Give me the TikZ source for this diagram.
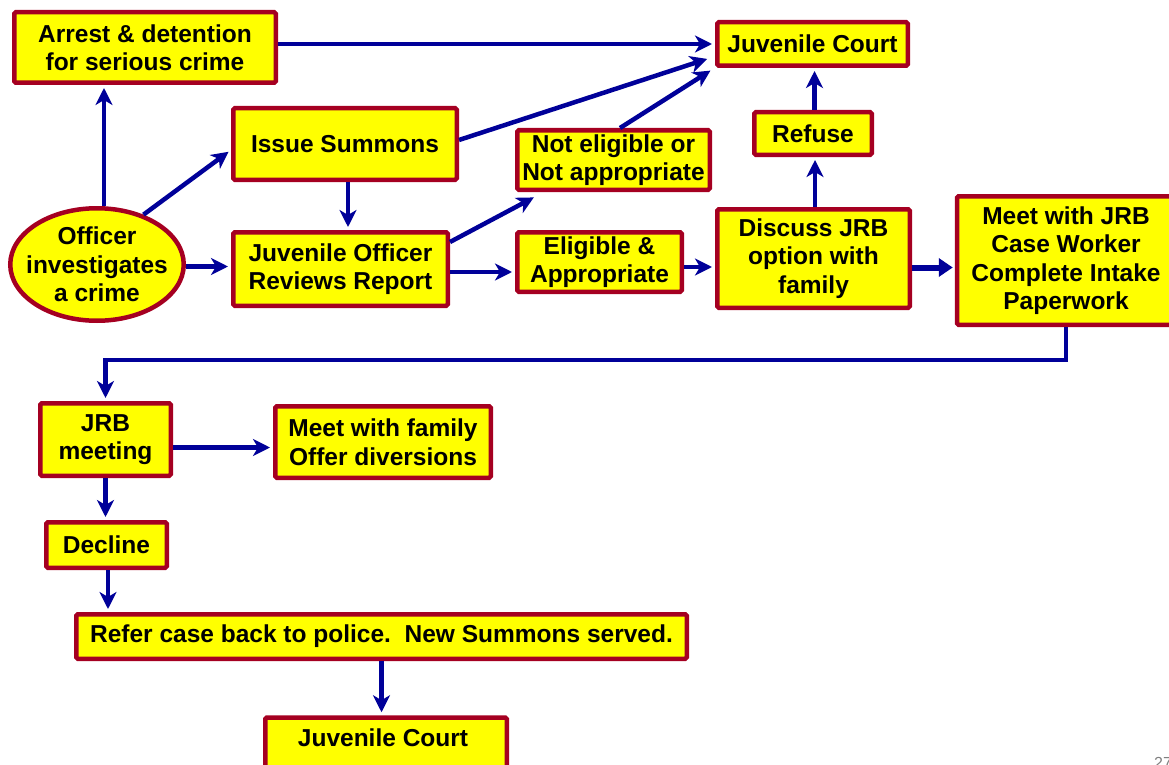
\documentclass[tikz,border=0pt]{standalone}
\usepackage{fontspec}
\setmainfont{Liberation Sans}
\usetikzlibrary{arrows.meta,shapes.geometric,calc}
\definecolor{boxfill}{HTML}{FFFF00}
\definecolor{boxline}{HTML}{A50021}
\definecolor{flow}{HTML}{000099}
\begin{document}
\begin{tikzpicture}[x=1pt,y=-1pt,
  box/.style={draw=boxline, fill=boxfill, line width=4.5pt, rounded corners=1.5pt,
    inner sep=0pt, align=center, font=\bfseries\fontsize{24.5}{28.5}\selectfont},
  oval/.style={box, ellipse, sharp corners, inner xsep=-10pt, inner ysep=-3pt},
  arr/.style={draw=flow, line width=4.5pt, shorten >=3pt,
    -{Stealth[length=17pt,width=17pt,inset=5pt]}},
  bigarr/.style={draw=flow, line width=6pt, shorten >=2pt,
    -{Triangle[length=14pt,width=18pt]}},
]
\useasboundingbox (0,0) rectangle (1169,765);

% ---- boxes ----
\node[box, minimum width=261.5, minimum height=70.5] (arrest) at (145,47.5)
  {Arrest \& detention\\for serious crime};
\node[box, minimum width=190.5, minimum height=43.5] (jc1) at (812.5,44) {Juvenile Court};
\node[box, minimum width=223.5, minimum height=71.5] (summons) at (345,144) {Issue Summons};
\node[box, minimum width=192.5, minimum height=59.5] (notelig) at (613.5,160)
  {Not eligible or\\Not appropriate};
\node[box, minimum width=117.5, minimum height=42.5] (refuse) at (813,133.5) {Refuse};
\node[oval, minimum width=173.5, minimum height=112.5] (officer) at (97,264.5)
  {Officer\\investigates\\a crime};
\node[box, minimum width=214.5, minimum height=73.5] (reviews) at (340.5,269)
  {Juvenile Officer\\Reviews Report};
\node[box, minimum width=164.5, minimum height=59.5] (elig) at (599.5,262)
  {Eligible \&\\Appropriate};
\node[box, minimum width=192.5, minimum height=98.5] (discuss) at (813.5,258.5)
  {Discuss JRB\\option with\\family};
\node[box, minimum width=218, minimum height=128.5] (meetjrb) at (1066,260.5)
  {Meet with JRB\\Case Worker\\Complete Intake\\Paperwork};
\node[box, minimum width=130.5, minimum height=72.5] (jrbmeet) at (105.5,439.5)
  {JRB\\meeting};
\node[box, minimum width=215.5, minimum height=71.5] (family) at (383,442)
  {Meet with family\\Offer diversions};
\node[box, minimum width=120.5, minimum height=45.5] (decline) at (106.5,545) {Decline};
\node[box, minimum width=610.5, minimum height=44.5] (refer) at (381.5,636.5)
  {Refer case back to police.\ \ New Summons served.};
\node[box, minimum width=241.5, minimum height=80, anchor=north] (jc2) at (386,715.25) {};
\node[inner sep=0pt, font=\bfseries\fontsize{24.5}{28.5}\selectfont] (jc2text) at (383,738)
  {Juvenile Court};
\node[inner sep=0pt, anchor=north west, text=gray, font=\fontsize{16}{16}\selectfont]
  (pagenum) at (1154,757) {27};

% ---- connectors ----
\coordinate (offtop) at ([xshift=7pt]officer.north);
\draw[arr] (offtop) -- (offtop |- arrest.south);
\draw[arr] (officer.47) -- ([yshift=-6pt]summons.west);
\draw[arr] ([yshift=-2pt]officer.east) -- ([yshift=-2pt]officer.east -| reviews.west);
\draw[arr] (arrest.east |- jc1.west) -- (jc1.west);
\coordinate (jcin2) at (710,58);
\coordinate (jcin3) at (713,69);
\draw[arr] ([yshift=4pt]summons.east) -- (jcin2);
\draw[arr] ([xshift=6.5pt]notelig.north) -- (jcin3);
\draw[arr] ([xshift=3pt]summons.south) -- ([xshift=3pt]summons.south |- reviews.north);
\draw[arr] ([yshift=27pt]reviews.east) -- ([shift={(-77pt,-4pt)}]notelig.south);
\draw[arr] ([yshift=-3pt]reviews.east) -- ([yshift=-3pt]reviews.east -| elig.west);
\draw[arr] ([yshift=-5pt]elig.east) -- ([yshift=-5pt]elig.east -| discuss.west);
\draw[arr] ([xshift=1.5pt]discuss.north) -- ([xshift=1.5pt]discuss.north |- refuse.south);
\draw[arr] ([xshift=1.5pt]refuse.north) -- ([xshift=1.5pt]refuse.north |- jc1.south);
\draw[bigarr] ([yshift=-9pt]discuss.east) -- ([yshift=-9pt]discuss.east -| meetjrb.west);
\coordinate (loopturn) at (1066,360);
\draw[arr] (meetjrb.south) -- (loopturn) -| (jrbmeet.north);
\draw[arr] ([yshift=-8pt]jrbmeet.east) -- ([yshift=-8pt]jrbmeet.east -| family.west);
\draw[arr] (jrbmeet.south) -- (jrbmeet.south |- decline.north);
\draw[arr] ([xshift=1.5pt]decline.south) -- ([xshift=1.5pt]decline.south |- refer.north);
\draw[arr] (refer.south) -- (refer.south |- jc2.north);
\end{tikzpicture}
\end{document}
